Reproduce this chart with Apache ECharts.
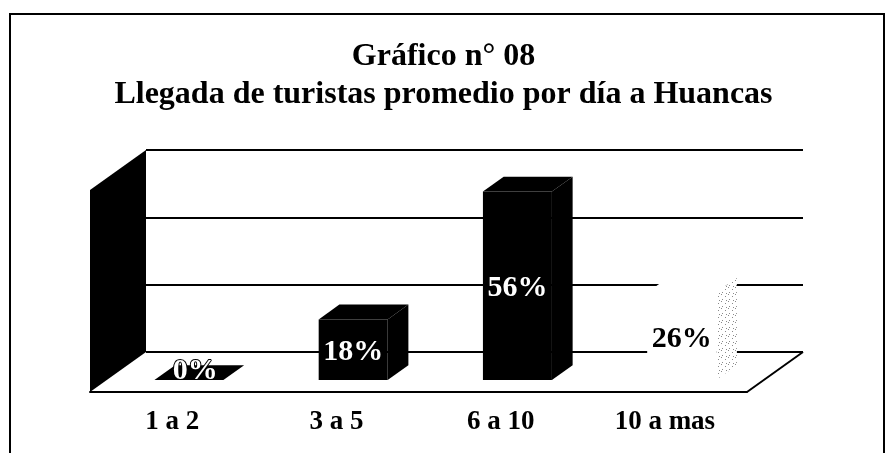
<!DOCTYPE html>
<html>
<head>
<meta charset="utf-8">
<script src="https://cdn.jsdelivr.net/npm/echarts@6/dist/echarts.min.js"></script>
<style>
  html, body { margin: 0; padding: 0; background: #fff; }
  #chart { width: 887px; height: 453px; }
</style>
</head>
<body>
<div id="chart"></div>
<script>
// data
const categories = ['1 a 2', '3 a 5', '6 a 10', '10 a mas'];
const percents = [0, 18, 56, 26];
const axisMin = 0;
const axisMax = 60;
const axisStep = 20;

// layout (3D look: back wall = front plane shifted by depth)
const FRONT = { left: 90, top: 190, width: 657, height: 202 };
const DEPTH = [56, -40];
const F0 = 0.3;   // bar front face position inside the depth
const F1 = 0.67;  // bar back face
const SERIF = '"Liberation Serif", "Times New Roman", serif';

// stipple used for the light bar
const stipple = (() => {
  const c = document.createElement('canvas');
  c.width = 7; c.height = 7;
  const g = c.getContext('2d');
  g.fillStyle = '#fff';
  g.fillRect(0, 0, 7, 7);
  g.fillStyle = '#8a8a8a';
  [[0, 0], [4, 2], [1, 5], [5, 6]].forEach(([x, y]) => g.fillRect(x, y, 1, 1));
  return c;
})();

const barStyles = [
  { front: '#000', top: '#000', side: '#000', label: '#fff' },
  { front: '#000', top: '#000', side: '#000', label: '#fff' },
  { front: '#000', top: '#000', side: '#000', label: '#fff' },
  { front: '#fff', top: '#fff', side: { image: stipple, repeat: 'repeat' }, label: '#000' }
];

const renderBar = (params, api) => {
  const i = params.dataIndex;
  const st = barStyles[i];
  const v = api.value(1);
  const base = api.coord([api.value(0), 0]);
  const top = api.coord([api.value(0), v]);
  const w = api.size([1, 0])[0] * 0.42;
  const x0 = base[0] - w / 2 + DEPTH[0] * F0;
  const x1 = x0 + w;
  const yb = base[1] + DEPTH[1] * F0;
  const yt = top[1] + DEPTH[1] * F0;
  const dx = DEPTH[0] * (F1 - F0);
  const dy = DEPTH[1] * (F1 - F0);
  let lx = (x0 + x1) / 2;
  let ly = (yb + yt) / 2 + 3;
  if (yb - yt < 20) {
    lx += dx / 2 - 4;
    ly += dy / 2 - 4;
  }
  const whiteLabel = st.label === '#fff';
  return {
    type: 'group',
    children: [
      {
        type: 'polygon',
        shape: { points: [[x1, yb], [x1 + dx, yb + dy], [x1 + dx, yt + dy], [x1, yt]] },
        style: { fill: st.side }
      },
      {
        type: 'polygon',
        shape: { points: [[x0, yt], [x1, yt], [x1 + dx, yt + dy], [x0 + dx, yt + dy]] },
        style: { fill: st.top }
      },
      {
        type: 'rect',
        shape: { x: x0, y: yt, width: w, height: yb - yt },
        style: { fill: st.front }
      },
      {
        type: 'text',
        style: {
          text: percents[i] + '%',
          x: lx,
          y: ly,
          align: 'center',
          verticalAlign: 'middle',
          fill: st.label,
          stroke: whiteLabel ? '#000' : null,
          lineWidth: whiteLabel ? 2 : 0,
          font: 'bold 30px ' + SERIF
        }
      }
    ]
  };
};

const chart = echarts.init(document.getElementById('chart'));

const fl = FRONT.left, ft = FRONT.top, fr = FRONT.left + FRONT.width, fb = FRONT.top + FRONT.height;
const [ddx, ddy] = DEPTH;

chart.setOption({
  animation: false,
  backgroundColor: '#fff',
  title: {
    text: 'Gráfico n° 08\nLlegada de turistas promedio por día a Huancas',
    left: 'center',
    top: 38,
    padding: [0, 0, 0, 18],
    textStyle: {
      fontFamily: SERIF,
      fontWeight: 'bold',
      fontSize: 32,
      lineHeight: 38,
      color: '#000'
    }
  },
  graphic: [
    {
      type: 'polyline',
      shape: { points: [[10, 453], [10, 14], [884, 14], [884, 453]] },
      style: { stroke: '#000', lineWidth: 2, fill: null }
    },
    {
      type: 'polygon',
      shape: { points: [[fl, ft], [fl + ddx, ft + ddy], [fl + ddx, fb + ddy], [fl, fb]] },
      style: { fill: '#000' }
    },
    {
      type: 'line',
      shape: { x1: fr, y1: fb, x2: fr + ddx, y2: fb + ddy },
      style: { stroke: '#000', lineWidth: 2 }
    }
  ],
  grid: [
    {
      left: FRONT.left + DEPTH[0],
      top: FRONT.top + DEPTH[1],
      width: FRONT.width,
      height: FRONT.height
    },
    {
      left: FRONT.left,
      top: FRONT.top,
      width: FRONT.width,
      height: FRONT.height
    }
  ],
  xAxis: [
    {
      gridIndex: 0,
      type: 'category',
      data: categories,
      show: false
    },
    {
      gridIndex: 1,
      type: 'category',
      data: categories,
      axisLine: { lineStyle: { color: '#000', width: 2 } },
      axisTick: { length: 6, lineStyle: { color: '#000', width: 2 } },
      axisLabel: {
        margin: 17,
        color: '#000',
        fontFamily: SERIF,
        fontWeight: 'bold',
        fontSize: 27
      }
    }
  ],
  yAxis: [
    {
      gridIndex: 0,
      type: 'value',
      min: axisMin,
      max: axisMax,
      interval: axisStep,
      axisLine: { show: false },
      axisTick: { show: false },
      axisLabel: { show: false },
      splitLine: { lineStyle: { color: '#000', width: 2 } }
    },
    {
      gridIndex: 1,
      type: 'value',
      min: axisMin,
      max: axisMax,
      interval: axisStep,
      show: false,
      splitLine: { show: false }
    }
  ],
  series: [
    {
      type: 'custom',
      xAxisIndex: 1,
      yAxisIndex: 1,
      clip: false,
      renderItem: renderBar,
      data: categories.map((c, i) => [i, percents[i]])
    }
  ]
});
</script>
</body>
</html>
